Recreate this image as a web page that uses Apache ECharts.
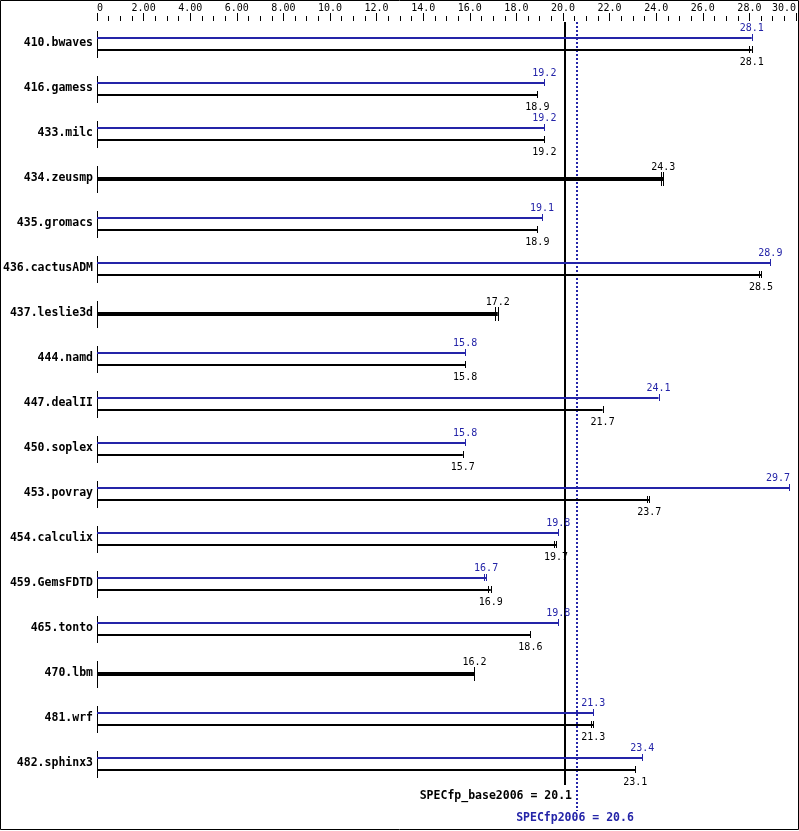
<!DOCTYPE html>
<html>
<head>
<meta charset="utf-8">
<script src="https://cdn.jsdelivr.net/npm/echarts@6/dist/echarts.min.js"></script>
<style>
html,body{margin:0;padding:0;background:#fff;}
#chart{width:799px;height:831px;}
</style>
</head>
<body>
<div id="chart"></div>
<script>
const categories = ['410.bwaves','416.gamess','433.milc','434.zeusmp','435.gromacs','436.cactusADM','437.leslie3d','444.namd','447.dealII','450.soplex','453.povray','454.calculix','459.GemsFDTD','465.tonto','470.lbm','481.wrf','482.sphinx3'];
const baseValues = [28.1, 18.9, 19.2, 24.3, 18.9, 28.5, 17.2, 15.8, 21.7, 15.7, 23.7, 19.7, 16.9, 18.6, 16.2, 21.3, 23.1];
const peakValues = [28.1, 19.2, 19.2, null, 19.1, 28.9, null, 15.8, 24.1, 15.8, 29.7, 19.8, 16.7, 19.8, null, 21.3, 23.4];
const baseOtherRuns = [28.0, null, null, 24.2, null, 28.4, 17.1, null, null, null, 23.6, 19.6, 16.8, null, null, 21.2, null];
const peakOtherRuns = [null, null, null, null, null, null, null, null, null, null, null, null, 16.6, null, null, null, null];
const tickLabels = ['0','2.00','4.00','6.00','8.00','10.0','12.0','14.0','16.0','18.0','20.0','22.0','24.0','26.0','28.0','30.0'];
const baseScore = 20.1;
const peakScore = 20.6;
const baseScoreLabel = 'SPECfp_base2006 = 20.1';
const peakScoreLabel = 'SPECfp2006 = 20.6';

const BLUE = '#2424a8';
const BLACK = '#000';
const MONO = '"DejaVu Sans Mono", "Liberation Mono", monospace';

const rows = categories.map((c, i) => [
  i,
  baseValues[i],
  peakValues[i] == null ? -1 : peakValues[i],
  baseOtherRuns[i] == null ? -1 : baseOtherRuns[i],
  peakOtherRuns[i] == null ? -1 : peakOtherRuns[i]
]);

function ln(x1, y1, x2, y2, color, w, dash) {
  return {type: 'line', shape: {x1, y1, x2, y2}, style: {stroke: color, lineWidth: w, lineDash: dash || null}, silent: true};
}
function txt(x, y, s, color, align, font) {
  return {type: 'text', style: {x, y, text: s, fill: color, align: align || 'center', verticalAlign: 'middle', font: font || ('10px ' + MONO)}, silent: true};
}
function snap(x) { return Math.round(x) + 0.5; }

function renderRow(params, api) {
  const i = api.value(0);
  const base = api.value(1), peak = api.value(2), baseX = api.value(3), peakX = api.value(4);
  const c0 = api.coord([0, i]);
  const x0 = c0[0], yc = Math.round(c0[1]);
  const ch = [];
  ch.push(ln(snap(x0), yc - 13, snap(x0), yc + 14, BLACK, 1));
  const clampX = x => Math.min(x, 778);
  if (peak < 0) {
    const xe = api.coord([base, i])[0];
    ch.push(ln(x0, yc, xe, yc, BLACK, 4));
    ch.push(ln(snap(xe), yc - 7, snap(xe), yc + 7, BLACK, 1));
    if (baseX >= 0) {
      const xx = api.coord([baseX, i])[0];
      ch.push(ln(snap(xx), yc - 7, snap(xx), yc + 7, BLACK, 1));
    }
    ch.push(txt(clampX(xe), yc - 12, base.toFixed(1), BLACK));
  } else {
    const yp = yc - 6, yb = yc + 6;
    const xp = api.coord([peak, i])[0];
    const xb = api.coord([base, i])[0];
    ch.push(ln(x0, yp, xp, yp, BLUE, 2));
    ch.push(ln(snap(xp), yp - 4, snap(xp), yp + 3, BLUE, 1));
    if (peakX >= 0) {
      const xx = api.coord([peakX, i])[0];
      ch.push(ln(snap(xx), yp - 4, snap(xx), yp + 3, BLUE, 1));
    }
    ch.push(ln(x0, yb, xb, yb, BLACK, 2));
    ch.push(ln(snap(xb), yb - 4, snap(xb), yb + 3, BLACK, 1));
    if (baseX >= 0) {
      const xx = api.coord([baseX, i])[0];
      ch.push(ln(snap(xx), yb - 4, snap(xx), yb + 3, BLACK, 1));
    }
    ch.push(txt(clampX(xp), yc - 16, peak.toFixed(1), BLUE));
    ch.push(txt(clampX(xb), yc + 18, base.toFixed(1), BLACK));
  }
  return {type: 'group', children: ch};
}

function renderScores(params, api) {
  const cs = params.coordSys;
  const xb = snap(api.coord([api.value(0), 0])[0]) - 0.5;
  const xp = snap(api.coord([api.value(1), 0])[0]) - 0.5;
  const top = cs.y + 1, bottom = cs.y + cs.height;
  const bold = 'bold 11.5px ' + MONO;
  return {type: 'group', children: [
    ln(xb, top, xb, bottom - 1, BLACK, 2),
    ln(xp, top, xp, 811, BLUE, 2, [2, 2]),
    txt(xb + 7, 796, baseScoreLabel, BLACK, 'right', bold),
    txt(xp - 2, 818, peakScoreLabel, BLUE, 'center', bold)
  ]};
}

const chart = echarts.init(document.getElementById('chart'), null, {renderer: 'canvas'});
chart.setOption({
  animation: false,
  backgroundColor: '#fff',
  grid: {left: 97, top: 21, width: 701, height: 765, containLabel: false},
  xAxis: {
    type: 'value', position: 'top', min: 0, max: 30, interval: 2,
    axisLine: {show: false},
    axisTick: {show: true, inside: false, length: 8, lineStyle: {color: BLACK, width: 1}},
    minorTick: {show: true, splitNumber: 4, length: 5, lineStyle: {color: BLACK, width: 1}},
    splitLine: {show: false},
    axisLabel: {
      margin: 8, color: BLACK, fontFamily: MONO, fontSize: 10,
      alignMinLabel: 'left', alignMaxLabel: 'right',
      formatter: v => tickLabels[Math.round(v / 2)],
      rich: {}
    }
  },
  yAxis: {
    type: 'category', data: categories, inverse: true,
    axisLine: {show: false}, axisTick: {show: false}, splitLine: {show: false},
    axisLabel: {margin: 4, color: BLACK, fontFamily: MONO, fontSize: 11.5, fontWeight: 'bold'}
  },
  series: [
    {type: 'custom', coordinateSystem: 'cartesian2d', renderItem: renderRow, data: rows,
     encode: {x: 1, y: 0}, clip: false, silent: true},
    {type: 'custom', coordinateSystem: 'cartesian2d', renderItem: renderScores, data: [[baseScore, peakScore]],
     encode: {x: 0}, clip: false, silent: true, z: 1}
  ],
  graphic: [{type: 'rect', shape: {x: 0.5, y: 0.5, width: 798, height: 829}, style: {fill: null, stroke: BLACK, lineWidth: 1}, silent: true}]
});
</script>
</body>
</html>
